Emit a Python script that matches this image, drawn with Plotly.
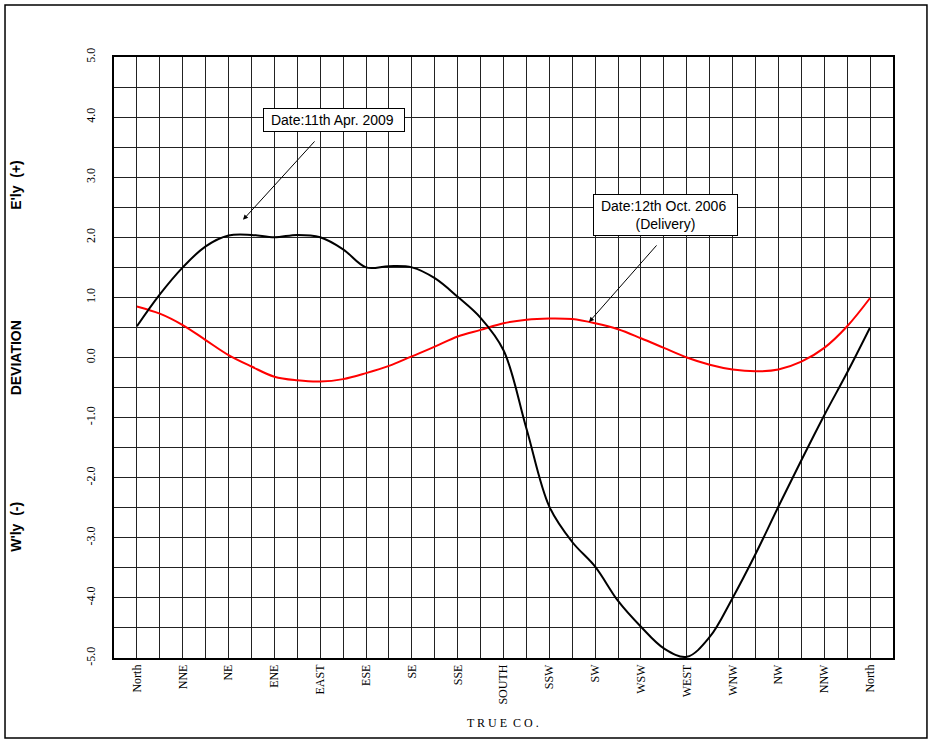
"""Compass deviation curve: true course vs deviation, 2006 delivery vs 2009 check."""
import plotly.graph_objects as go

# headings in degrees, every quarter point (11.25 deg)
HEADINGS = [0, 11.25, 22.5, 33.75, 45, 56.25, 67.5, 78.75, 90,
            101.25, 112.5, 123.75, 135, 146.25, 157.5, 168.75, 180,
            191.25, 202.5, 213.75, 225, 236.25, 247.5, 258.75, 270,
            281.25, 292.5, 303.75, 315, 326.25, 337.5, 348.75, 360]

# deviation (deg, + = easterly)
DEV_2009 = [0.52, 1.05, 1.5, 1.85, 2.03, 2.04, 2.0, 2.04, 2.0,
            1.8, 1.5, 1.52, 1.5, 1.32, 1.01, 0.66, 0.12,
            -1.18, -2.48, -3.07, -3.48, -4.05, -4.48, -4.84, -4.98,
            -4.65, -4.0, -3.27, -2.48, -1.71, -0.96, -0.25, 0.5]
DEV_2006 = [0.85, 0.73, 0.54, 0.29, 0.04, -0.15, -0.32, -0.38, -0.4,
            -0.36, -0.26, -0.14, 0.02, 0.18, 0.35, 0.46, 0.57,
            0.63, 0.65, 0.64, 0.57, 0.47, 0.32, 0.16, 0.0,
            -0.12, -0.2, -0.23, -0.2, -0.07, 0.16, 0.52, 0.99]

POINT_NAMES = ["North", "NNE", "NE", "ENE", "EAST", "ESE", "SE", "SSE", "SOUTH",
               "SSW", "SW", "WSW", "WEST", "WNW", "NW", "NNW", "North"]
Y_TICKS = [5.0, 4.5, 4.0, 3.5, 3.0, 2.5, 2.0, 1.5, 1.0, 0.5, 0.0,
           -0.5, -1.0, -1.5, -2.0, -2.5, -3.0, -3.5, -4.0, -4.5, -5.0]

SERIF = "Liberation Serif"
SANS = "Liberation Sans"

x_text = []
for i in range(len(HEADINGS)):
    x_text.append(POINT_NAMES[i // 2] if i % 2 == 0 else "")
y_text = [f"{v:.1f}" if v == int(v) else "" for v in Y_TICKS]

fig = go.Figure()
fig.add_trace(go.Scatter(x=HEADINGS, y=DEV_2006, mode="lines", line_shape="spline",
                         line=dict(color="#ff0000", width=2), showlegend=False))
fig.add_trace(go.Scatter(x=HEADINGS, y=DEV_2009, mode="lines", line_shape="spline",
                         line=dict(color="#000000", width=2), showlegend=False))

fig.update_layout(
    width=933, height=743, paper_bgcolor="white", plot_bgcolor="white",
    margin=dict(l=114, r=40, t=57, b=85),
    font=dict(family=SERIF, size=12, color="black"),
)
fig.update_xaxes(range=[-11.25, 371.25], tickmode="array", tickvals=HEADINGS, ticktext=x_text,
                 tickangle=-90, showgrid=True, gridcolor="#222", gridwidth=1,
                 showline=True, linecolor="black", linewidth=1.5, mirror=True,
                 ticks="", zeroline=False, tickfont=dict(family=SERIF, size=12))
fig.update_yaxes(range=[-5, 5], tickmode="array", tickvals=Y_TICKS, ticktext=y_text,
                 tickangle=-90, showgrid=True, gridcolor="#222", gridwidth=1,
                 showline=True, linecolor="black", linewidth=1.5, mirror=True,
                 ticks="", zeroline=False, ticklabelstandoff=12,
                 tickfont=dict(family=SERIF, size=12))

# axis titles
side = dict(xref="paper", yref="paper", showarrow=False, textangle=-90,
            xanchor="center", yanchor="middle",
            font=dict(family=SANS, size=14, color="black"))
fig.add_annotation(x=-0.126, y=0.50, text="<b>DEVIATION</b>", **side)
fig.add_annotation(x=-0.126, y=0.787, text="<b>E'ly  (+)</b>", **side)
fig.add_annotation(x=-0.126, y=0.218, text="<b>W'ly  (-)</b>", **side)
fig.add_annotation(x=0.4994, y=-0.108, xref="paper", yref="paper", showarrow=False,
                   xanchor="center", yanchor="middle",
                   text="T R U E  C O .", font=dict(family=SERIF, size=12))

# date callouts
box = dict(showarrow=False, bgcolor="white", bordercolor="black", borderwidth=1,
           borderpad=3, font=dict(family=SANS, size=14, color="black"))
fig.add_annotation(x=96.7, y=3.95, text="&nbsp;Date:11th Apr. 2009&nbsp;&nbsp;", **box)
fig.add_annotation(x=259.3, y=2.37,
                   text="&nbsp;Date:12th Oct. 2006&nbsp;&nbsp;<br>(Delivery)",
                   align="center", **box)
arrow = dict(text="", showarrow=True, arrowhead=2, arrowsize=1, arrowwidth=1,
             arrowcolor="black", axref="x", ayref="y")
fig.add_annotation(x=52.1, y=2.29, ax=87.9, ay=3.62, **arrow)
fig.add_annotation(x=222.0, y=0.59, ax=255.8, ay=1.89, **arrow)

# outer frame
fig.add_shape(type="rect", xref="paper", yref="paper", x0=-0.1399, x1=1.0436,
              y0=-0.1331, y1=1.0865, line=dict(color="black", width=1.5))

fig.write_html("out.html", config={"displayModeBar": False},
               post_script="document.body.style.margin='0';")
